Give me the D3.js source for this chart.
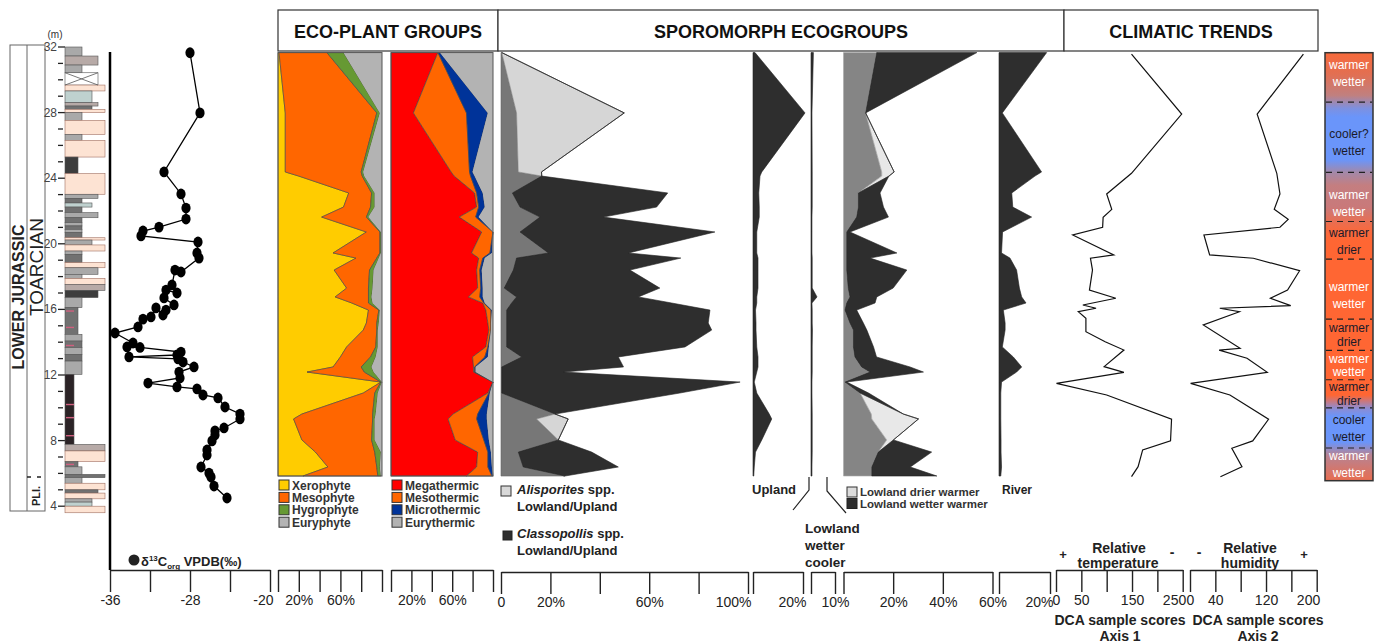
<!DOCTYPE html>
<html><head><meta charset="utf-8">
<script src="https://cdn.jsdelivr.net/npm/d3@7"></script>
<style>
body{margin:0;background:#fff}
svg{display:block;font-family:"Liberation Sans",Arial,Helvetica,sans-serif}
</style></head><body>
<svg id="chart" width="1386" height="644"></svg>
<script>
// ---------------- data ----------------
const depthTicks = [32, 28, 24, 20, 16, 12, 8, 4];

// lithology: bed top/base (m), grain class (1 clay .. 6 sand), kind
const bedTop   = [32.0,31.45,30.9,30.43,29.68,29.32,28.61,28.40,28.20,28.0,27.53,26.67,26.31,25.29,24.28,23.02,22.77,22.49,22.24,21.90,21.59,21.29,21.09,20.88,20.68,20.37,20.23,19.93,19.56,19.36,18.85,18.54,18.14,17.89,17.53,17.16,16.72,16.11,14.48,14.07,13.67,13.26,12.85,12.04,7.77,7.37,6.72,6.40,5.94,5.74,5.40,5.00,4.80,4.45,4.25,4.00];
const bedBase  = [31.45,30.9,30.43,29.68,29.32,28.61,28.40,28.20,28.0,27.53,26.67,26.31,25.29,24.28,23.02,22.77,22.49,22.24,21.90,21.59,21.29,21.09,20.88,20.68,20.37,20.23,19.93,19.56,19.36,18.85,18.54,18.14,17.89,17.53,17.16,16.72,16.11,14.48,14.07,13.67,13.26,12.85,12.04,7.77,7.37,6.72,6.40,5.94,5.74,5.40,5.00,4.80,4.45,4.25,4.00,3.60];
const bedGrain = [3,5,3,5,6,4,5,4,6,3,6,3,6,2,6,5,3,4,3,5,3,3,3,3,3,6,4,6,3,3,6,5,3,6,6,5,3,2,3,3,3,3,3,1,6,6,2,3,6,3,6,5,6,4,4,6];
const bedKind  = ["g","gb","g","x","p","b","gb","m","p","g","p","g","p","d","p","g","m","b","m","g","m","g","m","g","m","p","g","p","g","m","p","g","g","p","gb","d","g","m","g","m","g","m","g","k","gb","p","m","g","m","g","p","m","p","g","b","p"];
const pinkMarks = [15.9, 14.9, 13.8, 10.2, 9.4, 8.3, 6.55];

// carbon isotopes (depth m, ‰ VPDB)
const d13cDepth = [31.65,27.98,24.38,23.04,22.18,21.51,21.02,20.78,20.48,20.11,19.44,19.13,18.28,18.40,17.49,17.00,17.18,16.70,16.27,15.96,15.66,16.09,15.54,15.41,14.93,14.56,13.95,13.71,13.68,13.40,13.22,13.10,12.98,12.79,12.49,12.18,11.82,11.51,11.27,11.15,10.78,10.60,10.05,9.62,9.32,8.77,8.59,8.34,7.98,7.43,7.12,6.39,6.02,5.78,5.23,4.50];
const d13cValue = [-28.0,-27.0,-30.6,-28.9,-28.4,-28.4,-31.1,-32.7,-32.9,-27.2,-27.3,-27.1,-28.9,-29.5,-29.8,-29.3,-30.4,-30.6,-29.6,-30.4,-30.7,-31.4,-31.9,-32.7,-33.2,-35.5,-33.7,-34.3,-33.0,-28.9,-29.3,-34.1,-29.2,-28.7,-27.6,-29.1,-29.0,-32.2,-29.3,-27.3,-26.7,-25.2,-24.5,-23.0,-23.0,-24.6,-25.5,-25.5,-25.8,-26.3,-26.3,-26.9,-26.1,-25.9,-25.6,-24.3];

// palynology samples (m)
const sampleDepth = [31.66,27.98,24.38,24.13,23.10,22.24,21.63,20.72,19.44,19.13,18.40,17.30,16.76,16.39,15.96,15.17,14.74,13.71,13.10,12.49,12.18,11.57,10.90,9.62,9.32,8.04,7.30,6.39,5.84];

// eco-plant groups (%)
const xerophyte  = [1,7,7,20,68,63,42,85,53,75,54,66,55,71,87,85,82,66,60,53,28,99,82,23,15,23,36,48,24];
const mesophyte  = [46,88,73,61,22,26,43,13,45,20,34,21,32,16,10,10,13,28,29,27,55,0,11,68,76,67,57,47,72];
const hygrophyte = [16,3,2,2,3,4,2,1,1,2,4,4,3,4,1,2,1,2,5,10,9,1,3,3,2,3,6,3,3];
const euryphyte  = [37,2,18,17,7,7,13,1,1,3,8,9,10,9,2,3,4,4,6,10,8,0,4,6,7,7,1,2,1];

const megathermic  = [46,22,59,62,82,84,67,89,79,86,84,85,76,90,93,95,96,93,80,81,81,100,95,61,56,63,85,84,74];
const mesothermic  = [0,52,18,16,2,2,16,11,18,4,3,3,11,1,5,3,2,2,12,1,1,0,1,24,28,28,10,11,25];
const microthermic = [2,21,3,4,6,6,3,0,2,2,2,2,3,1,1,0,0,1,3,1,1,0,1,9,10,5,3,4,1];
const eurythermic  = [52,5,20,18,10,8,14,0,1,8,11,10,10,8,1,2,2,4,5,17,17,0,3,6,6,4,2,1,0];

// sporomorph ecogroups (%)
const lowUpOther   = [0.3,6.3,7.0,16.5,4.6,7.7,15.8,7.7,19.2,6.3,5.0,1.3,6.3,4.3,2.3,2.3,2.3,2.3,8.4,0.3,0.3,0.3,0.3,21.9,14.4,23.2,7.0,9.0,25.9];
const alisporites  = [0,43.6,9.4,0,0,0,0,0,0,0,0,0,0,0,0,0,0,0,0,0,0,0,0,0,12.8,0,0,0,0];
const classopollis = [0,0,0,0,62.9,55.3,25.6,78.9,32.4,66.5,47.2,63.0,49.3,64.8,82.3,81.6,83.0,72.2,39.1,49.3,25.0,96.5,72.1,0,0,0,29.7,38.5,0];
const upland       = [0.8,20.8,3.5,2.8,2.3,2.5,2.5,1.5,1.5,2,2,2,1.5,1.5,1,1.2,1.2,1.5,2,2,1.5,0.5,1.5,6.5,7.5,3.5,1,0.5,0.3];
const lowlandWetCool = [1.0,0.4,0.5,0.5,0.5,0.5,0.4,0.4,0.4,0.5,0.5,0.5,2.5,0.4,0.5,0.5,0.6,0.5,0.5,0.5,0.5,0.4,0.4,0.5,0.5,0.5,0.5,0.4,0.4];
const lowlandOther = [13.4,8.9,15.4,15.4,6.0,6.0,5.3,1.3,1.3,1.3,1.3,1.9,2.6,1.3,0.6,2.6,4.0,4.0,4.6,7.3,10.7,0.6,6.7,11.2,11.4,17.4,14.0,11.4,11.4];
const lowlandDryWarm = [0,0,5.0,2.9,0,0,0,0,0,0,0,0,0,0,0,0,0,0,0,0,0,0,0,12.9,18.8,2.7,0,0,0];
const lowlandWetWarm = [40.3,0,0,0,8.7,10.1,12.8,1.3,20.2,9.4,24.2,18.1,10.8,11.4,4.7,5.4,5.4,8.1,8.7,19.5,21.5,0.7,3.4,0,0,0,21.5,15.5,26.2];
const river        = [18.7,1.3,16.7,14.1,5.0,5.4,12.8,1.4,1.0,4.3,6.9,8.0,8.9,10.6,1.7,2.4,2.4,1.3,5.6,8.9,6.9,1.0,0.7,0.7,0.7,0.8,0.8,1.0,0.7];

// DCA sample scores
const dca1Depth = [31.57,27.91,24.30,23.04,22.10,21.61,21.01,20.54,19.32,19.12,18.40,17.18,16.68,16.27,16.07,15.86,15.46,14.64,14.03,13.52,12.51,12.16,11.49,10.78,9.30,7.98,7.43,6.41,5.80];
const dca1Score = [149,248,149,100,110,93,92,33,114,68,72,66,118,53,79,44,59,59,97,134,95,134,1,100,228,226,171,162,149];
const dca2Depth = [31.57,27.91,24.30,23.04,22.10,21.49,21.01,20.54,19.32,19.12,18.36,17.18,16.68,16.23,16.07,15.86,15.05,13.63,13.52,13.02,12.16,11.49,10.78,9.30,7.98,7.53,6.41,5.80];
const dca2Score = [179,106,137,142,133,155,142,22,31,100,173,154,127,159,47,78,21,79,46,90,122,1,63,124,99,66,82,48];

// climate interpretation zones (m)
const zoneBreaks = [28.64,24.35,21.36,19.07,15.41,13.50,11.71,9.99,7.55];
const zoneLabel = [["warmer","wetter"],["cooler?","wetter"],["warmer","wetter"],["warmer","drier"],["warmer","wetter"],["warmer","drier"],["warmer","wetter"],["warmer","drier"],["cooler","wetter"],["warmer","wetter"]];
const zoneLabelDepth = [30.39,26.21,22.47,20.17,16.88,14.45,12.60,10.85,8.75,6.55];
const zoneLight = [true,false,true,false,true,false,true,false,false,true];

// ---------------- drawing ----------------
const svg = d3.select("#chart");
const y = d3.scaleLinear().domain([32, 4]).range([47, 506.2]);
const TXT = "#222";

// header boxes
const headers = [[278, 498, "ECO-PLANT GROUPS"], [498, 1064, "SPOROMORPH ECOGROUPS"], [1064, 1318, "CLIMATIC TRENDS"]];
headers.forEach(([a, b, t]) => {
  svg.append("rect").attr("x", a).attr("y", 10).attr("width", b - a).attr("height", 41)
    .attr("fill", "#fff").attr("stroke", "#333").attr("stroke-width", 1.2);
  svg.append("text").attr("x", (a + b) / 2).attr("y", 38).attr("text-anchor", "middle")
    .attr("font-weight", "bold").attr("font-size", 18).attr("fill", "#111").text(t);
});

// ---- stratigraphy labels ----
svg.append("rect").attr("x", 10).attr("y", 45).attr("width", 35).attr("height", 466)
  .attr("fill", "none").attr("stroke", "#666").attr("stroke-width", 1);
svg.append("line").attr("x1", 27).attr("x2", 27).attr("y1", 45).attr("y2", 511).attr("stroke", "#666");
svg.append("line").attr("x1", 27).attr("x2", 45).attr("y1", 477).attr("y2", 477)
  .attr("stroke", "#222").attr("stroke-width", 1.4).attr("stroke-dasharray", "4,6");
svg.append("text").attr("transform", "translate(18.5,297) rotate(-90)").attr("text-anchor", "middle")
  .attr("dominant-baseline", "central").attr("font-weight", "bold").attr("font-size", 16).attr("fill", TXT).text("LOWER JURASSIC");
svg.append("text").attr("transform", "translate(36,267) rotate(-90)").attr("text-anchor", "middle")
  .attr("dominant-baseline", "central").attr("font-size", 19).attr("fill", TXT).text("TOARCIAN");
svg.append("text").attr("transform", "translate(36,496) rotate(-90)").attr("text-anchor", "middle")
  .attr("dominant-baseline", "central").attr("font-weight", "bold").attr("font-size", 11).attr("fill", TXT).text("PLI.");

// depth axis
svg.append("text").attr("x", 55).attr("y", 38).attr("text-anchor", "middle").attr("font-size", 10).attr("fill", "#333").text("(m)");
d3.range(4, 33).forEach(d => {
  const major = depthTicks.includes(d);
  svg.append("line").attr("x1", 58).attr("x2", major ? 65 : 63).attr("y1", y(d)).attr("y2", y(d))
    .attr("stroke", "#222").attr("stroke-width", 1.3);
});
svg.selectAll(".dlab").data(depthTicks).join("text").attr("x", 57).attr("y", d => y(d) + 4)
  .attr("text-anchor", "end").attr("font-size", 12).attr("fill", "#444").text(d => d);

// lithology column
const grainX = d3.scaleLinear().domain([1, 2, 3, 4, 5, 6]).range([74, 78, 82, 92, 98, 105]);
const kindFill = {g: "#a9a9a9", gb: "#b7aaa7", p: "#fde3d3", b: "#bfd1cf", m: "#717171", d: "#3d3d3d", k: "#2b2326", x: "#fff"};
const beds = bedTop.map((t, i) => ({t, b: bedBase[i], g: bedGrain[i], k: bedKind[i]}));
const litho = svg.append("g");
litho.selectAll("rect").data(beds).join("rect")
  .attr("x", 65).attr("y", d => y(d.t)).attr("width", d => grainX(d.g) - 65).attr("height", d => y(d.b) - y(d.t))
  .attr("fill", d => kindFill[d.k]).attr("stroke", d => d.k === "p" ? "#a07062" : "#555").attr("stroke-width", 0.6);
beds.filter(d => d.k === "x").forEach(d => {
  litho.append("path").attr("d", `M65,${y(d.t)}L${grainX(d.g)},${y(d.b)}M65,${y(d.b)}L${grainX(d.g)},${y(d.t)}`)
    .attr("stroke", "#555").attr("stroke-width", 0.8);
});
litho.selectAll(".pk").data(pinkMarks).join("line").attr("x1", 66).attr("x2", 74).attr("y1", d => y(d)).attr("y2", d => y(d))
  .attr("stroke", "#d0607f").attr("stroke-width", 1.4);

// ---- carbon isotope curve ----
const xC = d3.scaleLinear().domain([-36, -20]).range([110, 270]);
const carbon = d13cDepth.map((d, i) => ({d, v: d13cValue[i]}));
svg.append("line").attr("x1", 110).attr("x2", 110).attr("y1", 52).attr("y2", 570).attr("stroke", "#000").attr("stroke-width", 2.5);
svg.append("path").datum(carbon).attr("d", d3.line().x(p => xC(p.v)).y(p => y(p.d)))
  .attr("fill", "none").attr("stroke", "#000").attr("stroke-width", 1.3);
svg.selectAll(".c13").data(carbon).join("ellipse").attr("cx", p => xC(p.v)).attr("cy", p => y(p.d))
  .attr("rx", 4.6).attr("ry", 5.4).attr("fill", "#000");
svg.append("circle").attr("cx", 134).attr("cy", 560).attr("r", 5.5).attr("fill", "#222");
const cl = svg.append("text").attr("x", 141).attr("y", 566).attr("font-weight", "bold").attr("font-size", 13).attr("fill", TXT);
cl.append("tspan").text("δ");
cl.append("tspan").attr("font-size", 8).attr("dy", -5).text("13");
cl.append("tspan").attr("dy", 5).text("C");
cl.append("tspan").attr("font-size", 8).attr("dy", 3).text("org");
cl.append("tspan").attr("dy", -3).text(" VPDB(‰)");

// ---- stacked area helper ----
const yTop = y(sampleDepth[0]), yBot = y(sampleDepth[sampleDepth.length - 1]);
function stacked(xs, names, series, fills, strokes) {
  const rows = sampleDepth.map((d, i) => {
    const r = {depth: d};
    names.forEach((k, j) => r[k] = series[j][i]);
    return r;
  });
  const layers = d3.stack().keys(names)(rows);
  const area = d3.area().y(p => y(p.data.depth)).x0(p => xs(p[0])).x1(p => xs(p[1]));
  svg.append("g").selectAll("path").data(layers).join("path").attr("d", area)
    .attr("fill", (d, i) => fills[i]).attr("stroke", (d, i) => strokes[i]).attr("stroke-width", 0.6)
    .attr("stroke-linejoin", "round");
}

// eco-plant panels
const xE1 = d3.scaleLinear().domain([0, 100]).range([278, 382]);
const xE2 = d3.scaleLinear().domain([0, 100]).range([391, 493]);
const ecoFills = ["#ffcc00", "#ff6600", "#669933", "#b3b3b3"];
const thermFills = ["#ff0000", "#ff6600", "#003399", "#b3b3b3"];
stacked(xE1, ["Xerophyte", "Mesophyte", "Hygrophyte", "Euryphyte"], [xerophyte, mesophyte, hygrophyte, euryphyte], ecoFills, ["#444", "#444", "#444", "none"]);
stacked(xE2, ["Megathermic", "Mesothermic", "Microthermic", "Eurythermic"], [megathermic, mesothermic, microthermic, eurythermic], thermFills, ["#444", "#444", "#444", "none"]);
[[278, 382], [391, 493]].forEach(([a, b]) => svg.append("rect").attr("x", a).attr("y", yTop).attr("width", b - a)
  .attr("height", yBot - yTop).attr("fill", "none").attr("stroke", "#555").attr("stroke-width", 1));

function legend(x0, y0, names, fills) {
  names.forEach((n, i) => {
    svg.append("rect").attr("x", x0).attr("y", y0 + i * 12.4 - 5).attr("width", 10).attr("height", 10)
      .attr("fill", fills[i]).attr("stroke", "#333").attr("stroke-width", 1);
    svg.append("text").attr("x", x0 + 13).attr("y", y0 + i * 12.4 + 4.5).attr("font-size", 12)
      .attr("font-weight", "bold").attr("fill", "#333").text(n);
  });
}
legend(279, 485, ["Xerophyte", "Mesophyte", "Hygrophyte", "Euryphyte"], ecoFills);
legend(392, 485, ["Megathermic", "Mesothermic", "Microthermic", "Eurythermic"], thermFills);

// sporomorph ecogroup panels
const xS1 = d3.scaleLinear().domain([0, 100]).range([501, 748]);
const xUp = d3.scaleLinear().domain([0, 20]).range([753, 803]);
const xLc = d3.scaleLinear().domain([0, 10]).range([811, 835]);
const xLo = d3.scaleLinear().domain([0, 60]).range([843.5, 992.5]);
const xRi = d3.scaleLinear().domain([0, 20]).range([999, 1050]);
const DARK = "#2e2e2e";
stacked(xS1, ["other", "Alisporites", "Classopollis"], [lowUpOther, alisporites, classopollis], ["#777", "#d6d6d6", DARK], ["#666", "#8a8a8a", "#222"]);
stacked(xUp, ["Upland"], [upland], [DARK], ["#222"]);
stacked(xLc, ["LowlandWetterCooler"], [lowlandWetCool], [DARK], ["#222"]);
stacked(xLo, ["other", "drier", "wetter"], [lowlandOther, lowlandDryWarm, lowlandWetWarm], ["#858585", "#e8e8e8", DARK], ["#aaa", "#999", "#222"]);
stacked(xRi, ["River"], [river], [DARK], ["#222"]);

// sporomorph legends
svg.append("rect").attr("x", 501).attr("y", 486).attr("width", 10).attr("height", 10).attr("fill", "#d8d8d8").attr("stroke", "#333");
const t1 = svg.append("text").attr("x", 517).attr("y", 494).attr("font-size", 13).attr("font-weight", "bold").attr("fill", TXT);
t1.append("tspan").attr("font-style", "italic").text("Alisporites");
t1.append("tspan").text(" spp.");
svg.append("text").attr("x", 517).attr("y", 511).attr("font-size", 13).attr("font-weight", "bold").attr("fill", TXT).text("Lowland/Upland");
svg.append("rect").attr("x", 503).attr("y", 531).attr("width", 9).attr("height", 9).attr("fill", DARK).attr("stroke", "#222");
const t2 = svg.append("text").attr("x", 517).attr("y", 538).attr("font-size", 13).attr("font-weight", "bold").attr("fill", TXT);
t2.append("tspan").attr("font-style", "italic").text("Classopollis");
t2.append("tspan").text(" spp.");
svg.append("text").attr("x", 517).attr("y", 555).attr("font-size", 13).attr("font-weight", "bold").attr("fill", TXT).text("Lowland/Upland");

svg.append("text").attr("x", 752).attr("y", 494).attr("font-size", 13).attr("font-weight", "bold").attr("fill", TXT).text("Upland");
svg.append("text").attr("x", 1002).attr("y", 494).attr("font-size", 12).attr("font-weight", "bold").attr("fill", TXT).text("River");
svg.append("path").attr("d", "M809,477V490L793,510M827,477V491L846,513").attr("fill", "none").attr("stroke", "#222").attr("stroke-width", 1.2);
["Lowland", "wetter", "cooler"].forEach((w, i) => svg.append("text").attr("x", 805).attr("y", 533 + i * 17)
  .attr("font-size", 13.5).attr("font-weight", "bold").attr("fill", TXT).text(w));
svg.append("rect").attr("x", 847).attr("y", 487).attr("width", 10).attr("height", 10).attr("fill", "#dcdcdc").attr("stroke", "#333");
svg.append("rect").attr("x", 847).attr("y", 498.5).attr("width", 10).attr("height", 10).attr("fill", DARK).attr("stroke", "#222");
svg.append("text").attr("x", 860).attr("y", 496).attr("font-size", 11.5).attr("font-weight", "bold").attr("fill", "#333").text("Lowland drier warmer");
svg.append("text").attr("x", 860).attr("y", 508).attr("font-size", 11.5).attr("font-weight", "bold").attr("fill", "#333").text("Lowland wetter warmer");

// ---- DCA curves ----
const xD1 = d3.scaleLinear().domain([0, 250]).range([1056, 1182.7]);
const xD2 = d3.scaleLinear().domain([0, 200]).range([1190, 1316.7]);
const dca1 = dca1Depth.map((d, i) => [xD1(dca1Score[i]), y(d)]);
const dca2 = dca2Depth.map((d, i) => [xD2(dca2Score[i]), y(d)]);
[dca1, dca2].forEach(pts => svg.append("path").attr("d", d3.line()(pts)).attr("fill", "none")
  .attr("stroke", "#111").attr("stroke-width", 1.2));

// ---- climate column ----
const defs = svg.append("defs");
const grad = defs.append("linearGradient").attr("id", "climGrad").attr("x1", 0).attr("x2", 0).attr("y1", 0).attr("y2", 1);
[[0, "#f76a3c"], [0.05, "#e26f52"], [0.10, "#c08080"], [0.13, "#7d90e0"], [0.15, "#6a95fa"], [0.25, "#6a95fa"],
 [0.28, "#a488a8"], [0.31, "#c47e80"], [0.36, "#c9797a"], [0.41, "#f56a42"], [0.44, "#ff6633"], [0.80, "#ff6633"],
 [0.83, "#8f8bd0"], [0.85, "#6a95fa"], [0.91, "#6a95fa"], [0.94, "#b78393"], [1, "#e86d50"]]
  .forEach(([o, c]) => grad.append("stop").attr("offset", o).attr("stop-color", c));
const colTop = 52.7, colBot = 480.7;
svg.append("rect").attr("x", 1325).attr("y", colTop).attr("width", 48).attr("height", colBot - colTop)
  .attr("fill", "url(#climGrad)").attr("stroke", "#333").attr("stroke-width", 1.5);
svg.selectAll(".zb").data(zoneBreaks).join("line").attr("x1", 1326).attr("x2", 1372)
  .attr("y1", d => y(d)).attr("y2", d => y(d)).attr("stroke", "#222").attr("stroke-width", 1.2).attr("stroke-dasharray", "6,5");
zoneLabel.forEach((lines, i) => {
  const mid = y(zoneLabelDepth[i]);
  const gap = (i >= 5 && i <= 7) ? 13.6 : 16.7;   // tighter lines in the thin zones
  lines.forEach((w, j) => svg.append("text").attr("x", 1349).attr("y", mid + (j - 0.5) * gap + 4.2)
    .attr("text-anchor", "middle").attr("font-size", 12).attr("fill", zoneLight[i] ? "#fff" : "#1a1a2a").text(w));
});

// ---- bottom scales ----
function scaleBar(xs, longT, shortT, labels, y0, anchors) {
  const g = svg.append("g").attr("transform", `translate(0,${y0})`);
  g.call(d3.axisBottom(xs).tickValues(shortT).tickSize(11).tickSizeOuter(0).tickFormat(""));
  g.call(d3.axisBottom(xs).tickValues(longT).tickSize(22).tickSizeOuter(0)
    .tickFormat(v => labels[v] !== undefined ? labels[v] : ""));
  g.selectAll("path.domain").attr("stroke", "#222").attr("stroke-width", 1.4);
  g.selectAll(".tick line").attr("stroke", "#222").attr("stroke-width", 1.4);
  g.selectAll(".tick text").attr("font-size", 14).attr("fill", TXT)
    .attr("font-family", "Liberation Sans, Arial, sans-serif")
    .attr("text-anchor", v => (anchors && anchors[v]) || "middle")
    .attr("dx", v => (anchors && anchors[v] === "end") ? 3 : 0);
}
scaleBar(xC, [-36, -32, -28, -24, -20], [-34, -30, -26, -22], {"-36": "-36", "-28": "-28", "-20": "-20"}, 570, {"-20": "end"});
scaleBar(xE1, [0, 20, 40, 60, 80, 100], [10, 30, 50, 70, 90], {20: "20%", 60: "60%"}, 570);
scaleBar(xE2, [0, 20, 40, 60, 80, 100], [10, 30, 50, 70, 90], {20: "20%", 60: "60%"}, 570);
scaleBar(xS1, [0, 20, 40, 60, 80, 100], [10, 30, 50, 70, 90], {0: "0", 20: "20%", 60: "60%", 100: "100%"}, 572, {100: "end"});
scaleBar(xUp, [0, 20], [10], {20: "20%"}, 572, {20: "end"});
scaleBar(xLc, [0, 10], [], {10: "10%"}, 572);
scaleBar(xLo, [0, 20, 40, 60], [10, 30, 50], {20: "20%", 40: "40%", 60: "60%"}, 572);
scaleBar(xRi, [0, 20], [10], {20: "20%"}, 572, {20: "end"});
scaleBar(xD1, [0, 50, 100, 150, 200, 250], [25, 75, 125, 175, 225], {0: "0", 50: "50", 150: "150", 250: "250"}, 570, {250: "end"});
scaleBar(xD2, [0, 40, 80, 120, 160, 200], [20, 60, 100, 140, 180], {0: "0", 40: "40", 120: "120", 200: "200"}, 570, {200: "end"});

// DCA captions
const cap = (x, yy, t, size, anchor) => svg.append("text").attr("x", x).attr("y", yy).attr("text-anchor", anchor || "middle")
  .attr("font-size", size).attr("font-weight", "bold").attr("fill", TXT).text(t);
cap(1063, 559, "+", 13); cap(1119, 553, "Relative", 14); cap(1118, 568, "temperature", 14); cap(1172, 557, "-", 14);
cap(1199, 557, "-", 14); cap(1250, 553, "Relative", 14); cap(1250, 568, "humidity", 14); cap(1304, 559, "+", 13);
cap(1120, 625, "DCA sample scores", 14); cap(1120, 641, "Axis 1", 14);
cap(1258, 625, "DCA sample scores", 14); cap(1258, 641, "Axis 2", 14);
</script>
</body></html>
